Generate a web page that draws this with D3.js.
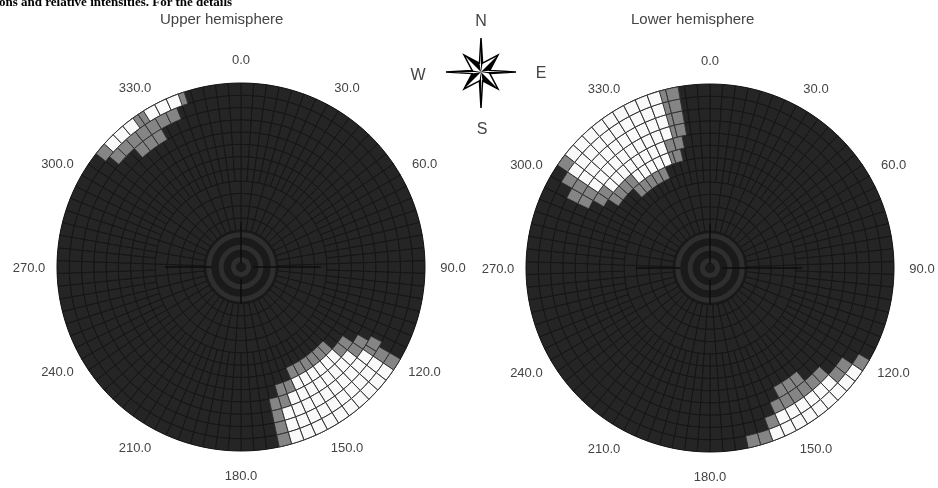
<!DOCTYPE html>
<html>
<head>
    <title>Hemispheres</title>
    <meta charset="utf-8" />
    <script src="https://cdn.jsdelivr.net/npm/d3@7"></script>
    <style>
        html, body { margin: 0; padding: 0; background: #fff; overflow: hidden; }
        svg { display: block; filter: blur(0.55px); }
        text { font-family: "Liberation Sans", Arial, sans-serif; fill: #444; }
    </style>
</head>
<body>
    <script>
        var azimuthLabels = ["0.0", "30.0", "60.0", "90.0", "120.0", "150.0", "180.0", "210.0", "240.0", "270.0", "300.0", "330.0"];
        var azimuthTicks = [0, 30, 60, 90, 120, 150, 180, 210, 240, 270, 300, 330];
        var panelTitles = ["Upper hemisphere", "Lower hemisphere"];
        var compassLetters = ["N", "E", "S", "W"];
        var letterX = [481, 541, 482, 418];
        var letterY = [26, 78, 134, 80];

        // [ring, from azimuth, to azimuth]
        var upperWhite = [
            [10, 132, 156], [11, 128, 160], [12, 124, 164], [13, 124, 164], [14, 124, 164],
            [14, 312, 322], [14, 328, 338]
        ];
        var upperGrey = [
            [9, 132, 156], [10, 124, 132], [10, 156, 164], [11, 120, 128], [11, 160, 168],
            [12, 118, 124], [12, 164, 168], [13, 120, 124], [13, 164, 168], [14, 120, 124], [14, 164, 168],
            [12, 318, 328], [13, 310, 336], [14, 308, 312], [14, 322, 328], [14, 338, 342]
        ];
        var lowerWhite = [
            [9, 320, 338], [10, 308, 340], [11, 304, 342], [12, 304, 342], [13, 304, 342], [14, 308, 342],
            [13, 132, 156], [14, 124, 160]
        ];
        var lowerGrey = [
            [8, 316, 334], [9, 304, 320], [9, 338, 344], [10, 300, 308], [10, 340, 346],
            [11, 296, 304], [11, 342, 348], [12, 296, 304], [12, 342, 348], [13, 300, 304], [13, 342, 348],
            [14, 304, 308], [14, 342, 350],
            [11, 140, 150], [12, 132, 156], [13, 124, 132], [13, 156, 160], [14, 120, 124], [14, 160, 166]
        ];

        // thick dark spokes near the pole: [azimuth, inner ring, outer ring]
        var upperSpokes = [[0, 0.3, 3.6], [90, 1, 6.5], [180, 1, 3], [270, 2.4, 6.2]];
        var lowerSpokes = [[0, 0.3, 3.6], [90, 1, 7.5], [180, 1, 3], [270, 2.4, 6]];

        // compass outline: [azimuth, distance]
        var starAzimuths = [0, 10, 45, 80, 90, 100, 135, 170, 180, 190, 225, 260, 270, 280, 315, 350];
        var starDistances = [34, 9, 24, 9, 35, 9, 24, 9, 36, 9, 24, 9, 35, 9, 24, 9];

        var width = 938;
        var height = 488;
        var radius = 184;
        var ringCount = 15;
        var sectorStep = 4;

        var ringScale = d3.scaleLinear().domain([0, ringCount]).range([0, radius]);
        var angleScale = d3.scaleLinear().domain([0, 360]).range([0, 2 * Math.PI]);

        var svg = d3.select("body").append("svg")
            .attr("width", width)
            .attr("height", height);

        var arc = d3.arc()
            .innerRadius(function (d) { return ringScale(d.ring); })
            .outerRadius(function (d) { return ringScale(d.ring + 1); })
            .startAngle(function (d) { return angleScale(d.az); })
            .endAngle(function (d) { return angleScale(d.az + d.step); });

        function expand(ranges) {
            var cells = [];
            ranges.forEach(function (r) {
                d3.range(r[1], r[2], sectorStep).forEach(function (az) {
                    cells.push({ ring: r[0], az: az, step: sectorStep });
                });
            });
            return cells;
        }

        function baseCells() {
            var cells = [];
            d3.range(3, ringCount).forEach(function (ring) {
                var step = ring < 7 ? sectorStep * 2 : sectorStep;
                d3.range(0, 360, step).forEach(function (az) {
                    cells.push({ ring: ring, az: az, step: step });
                });
            });
            return cells;
        }

        function drawPanel(cx, cy, titleX, title, white, grey, spokes) {
            var g = svg.append("g").attr("transform", "translate(" + cx + "," + cy + ")");

            g.append("circle").attr("r", radius).attr("fill", "#1a1a1a");

            g.selectAll(".pole").data(d3.range(0, 3)).enter().append("circle")
                .attr("r", function (d) { return ringScale(d + 0.62); })
                .attr("fill", "none")
                .attr("stroke", "#2e2e2e")
                .attr("stroke-width", 5);

            g.selectAll(".cell").data(baseCells()).enter().append("path")
                .attr("d", arc)
                .attr("fill", "#252525")
                .attr("stroke", "#161616")
                .attr("stroke-width", 1);

            g.selectAll(".grey").data(expand(grey)).enter().append("path")
                .attr("d", arc)
                .attr("fill", "#858585")
                .attr("stroke", "#333")
                .attr("stroke-width", 1);

            g.selectAll(".white").data(expand(white)).enter().append("path")
                .attr("d", arc)
                .attr("fill", "#f9f9f9")
                .attr("stroke", "#333")
                .attr("stroke-width", 1);

            g.selectAll(".spoke").data(spokes).enter().append("line")
                .attr("x1", function (d) { return Math.sin(angleScale(d[0])) * ringScale(d[1]); })
                .attr("y1", function (d) { return -Math.cos(angleScale(d[0])) * ringScale(d[1]); })
                .attr("x2", function (d) { return Math.sin(angleScale(d[0])) * ringScale(d[2]); })
                .attr("y2", function (d) { return -Math.cos(angleScale(d[0])) * ringScale(d[2]); })
                .attr("stroke", "#0c0c0c")
                .attr("stroke-width", 1.5);

            g.selectAll(".tick").data(azimuthTicks).enter().append("text")
                .attr("x", function (d) { return Math.sin(angleScale(d)) * 212; })
                .attr("y", function (d) { return -Math.cos(angleScale(d)) * 208 + 5; })
                .attr("text-anchor", "middle")
                .style("font-size", "13px")
                .text(function (d, i) { return azimuthLabels[i]; });

            svg.append("text")
                .attr("x", titleX)
                .attr("y", 24)
                .style("font-size", "15px")
                .text(title);
        }

        drawPanel(241, 267, 160, panelTitles[0], upperWhite, upperGrey, upperSpokes);
        drawPanel(710, 268, 631, panelTitles[1], lowerWhite, lowerGrey, lowerSpokes);

        // cut-off line of the surrounding document
        svg.append("text")
            .attr("x", -1)
            .attr("y", 6)
            .style("font-family", "'Liberation Serif', serif")
            .style("font-weight", "bold")
            .style("font-size", "13px")
            .style("fill", "#000")
            .text("ons and relative intensities. For the details");

        // compass
        var compass = svg.append("g").attr("transform", "translate(481,72)");
        var star = d3.lineRadial()
            .angle(function (d) { return angleScale(d[0]); })
            .radius(function (d) { return d[1]; })
            .curve(d3.curveLinearClosed);

        compass.append("path")
            .attr("d", star(d3.zip(starAzimuths, starDistances)))
            .attr("fill", "#fff")
            .attr("stroke", "#000")
            .attr("stroke-width", 1.5);

        // dark half of each point
        d3.range(0, starAzimuths.length, 2).forEach(function (i) {
            compass.append("path")
                .attr("d", star([[0, 0], [starAzimuths[i], starDistances[i]], [starAzimuths[i + 1], starDistances[i + 1]]]))
                .attr("fill", "#000");
        });

        compassLetters.forEach(function (letter, i) {
            svg.append("text")
                .attr("x", letterX[i])
                .attr("y", letterY[i])
                .attr("text-anchor", "middle")
                .style("font-size", "16px")
                .text(letter);
        });
    </script>
</body>
</html>
